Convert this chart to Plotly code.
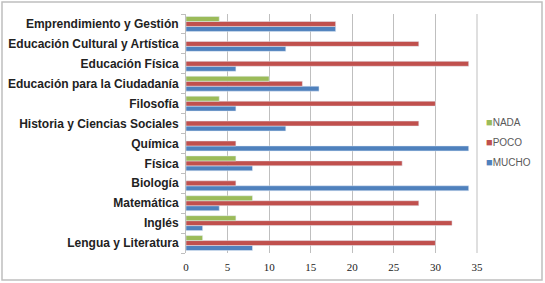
import plotly.graph_objects as go

categories = ["Lengua y Literatura", "Inglés", "Matemática", "Biología", "Física", "Química",
              "Historia y Ciencias Sociales", "Filosofía", "Educación para la Ciudadanía",
              "Educación Física", "Educación Cultural y Artística", "Emprendimiento y Gestión"]
mucho = [8, 2, 4, 34, 8, 34, 12, 6, 16, 6, 12, 18]
poco = [30, 32, 28, 6, 26, 6, 28, 30, 14, 34, 28, 18]
nada = [2, 6, 8, 0, 6, 0, 0, 4, 10, 0, 0, 4]
x_ticks = [0, 5, 10, 15, 20, 25, 30, 35]
series_names = ["NADA", "POCO", "MUCHO"]
series_colors = ["#9BBB59", "#C0504D", "#4F81BD"]

fig = go.Figure()
fig.add_trace(go.Bar(y=categories, x=mucho, name="MUCHO", orientation="h", marker_color="#4F81BD"))
fig.add_trace(go.Bar(y=categories, x=poco, name="POCO", orientation="h", marker_color="#C0504D"))
fig.add_trace(go.Bar(y=categories, x=nada, name="NADA", orientation="h", marker_color="#9BBB59"))

W, H = 545, 283
L, R, T, B = 186, 477, 14, 253
MR = 5
pw = W - L - MR          # paper width in px
ph = B - T

def px(x):
    return (x - L) / pw

def py(y):
    return (B - y) / ph

legend_ann = []
for i, (nm, col) in enumerate(zip(series_names, series_colors)):
    legend_ann.append(dict(
        xref="paper", yref="paper", x=px(484), y=py(122 + 20 * i),
        xanchor="left", yanchor="middle", showarrow=False,
        text=f"<span style='color:{col};font-size:11px'>■</span>{nm}",
        font=dict(family="Liberation Sans", size=10, color="#595959")))

fig.update_layout(
    width=W, height=H,
    margin=dict(l=L, r=MR, t=T, b=H - B, autoexpand=False),
    barmode="group", bargap=0.25, bargroupgap=0,
    plot_bgcolor="white", paper_bgcolor="white",
    showlegend=False,
    annotations=legend_ann,
    xaxis=dict(domain=[0, px(R)], range=[0, 35], tickvals=x_ticks, showgrid=True,
               gridcolor="#BFBFBF", gridwidth=1, zeroline=False, showline=False,
               ticklabelstandoff=6,
               tickfont=dict(family="Liberation Serif", size=11, color="#222222")),
    yaxis=dict(showline=True, linecolor="#BFBFBF", ticks="outside", tickson="boundaries",
               ticklen=4, tickcolor="#BFBFBF", automargin=False, ticklabelstandoff=4,
               tickfont=dict(family="Liberation Sans", size=12, color="#222222", weight="bold")),
    shapes=[
        dict(type="line", xref="paper", yref="paper", x0=px(R), x1=px(R), y0=0, y1=1,
             line=dict(color="#BFBFBF", width=1)),
        dict(type="rect", xref="paper", yref="paper",
             x0=px(2), x1=px(542), y0=py(280), y1=py(2),
             line=dict(color="#BFBFBF", width=1.5), layer="below"),
    ],
)

fig.write_html("out.html", config={"displayModeBar": False},
               post_script="document.body.style.margin='0';document.body.style.overflow='hidden';")
